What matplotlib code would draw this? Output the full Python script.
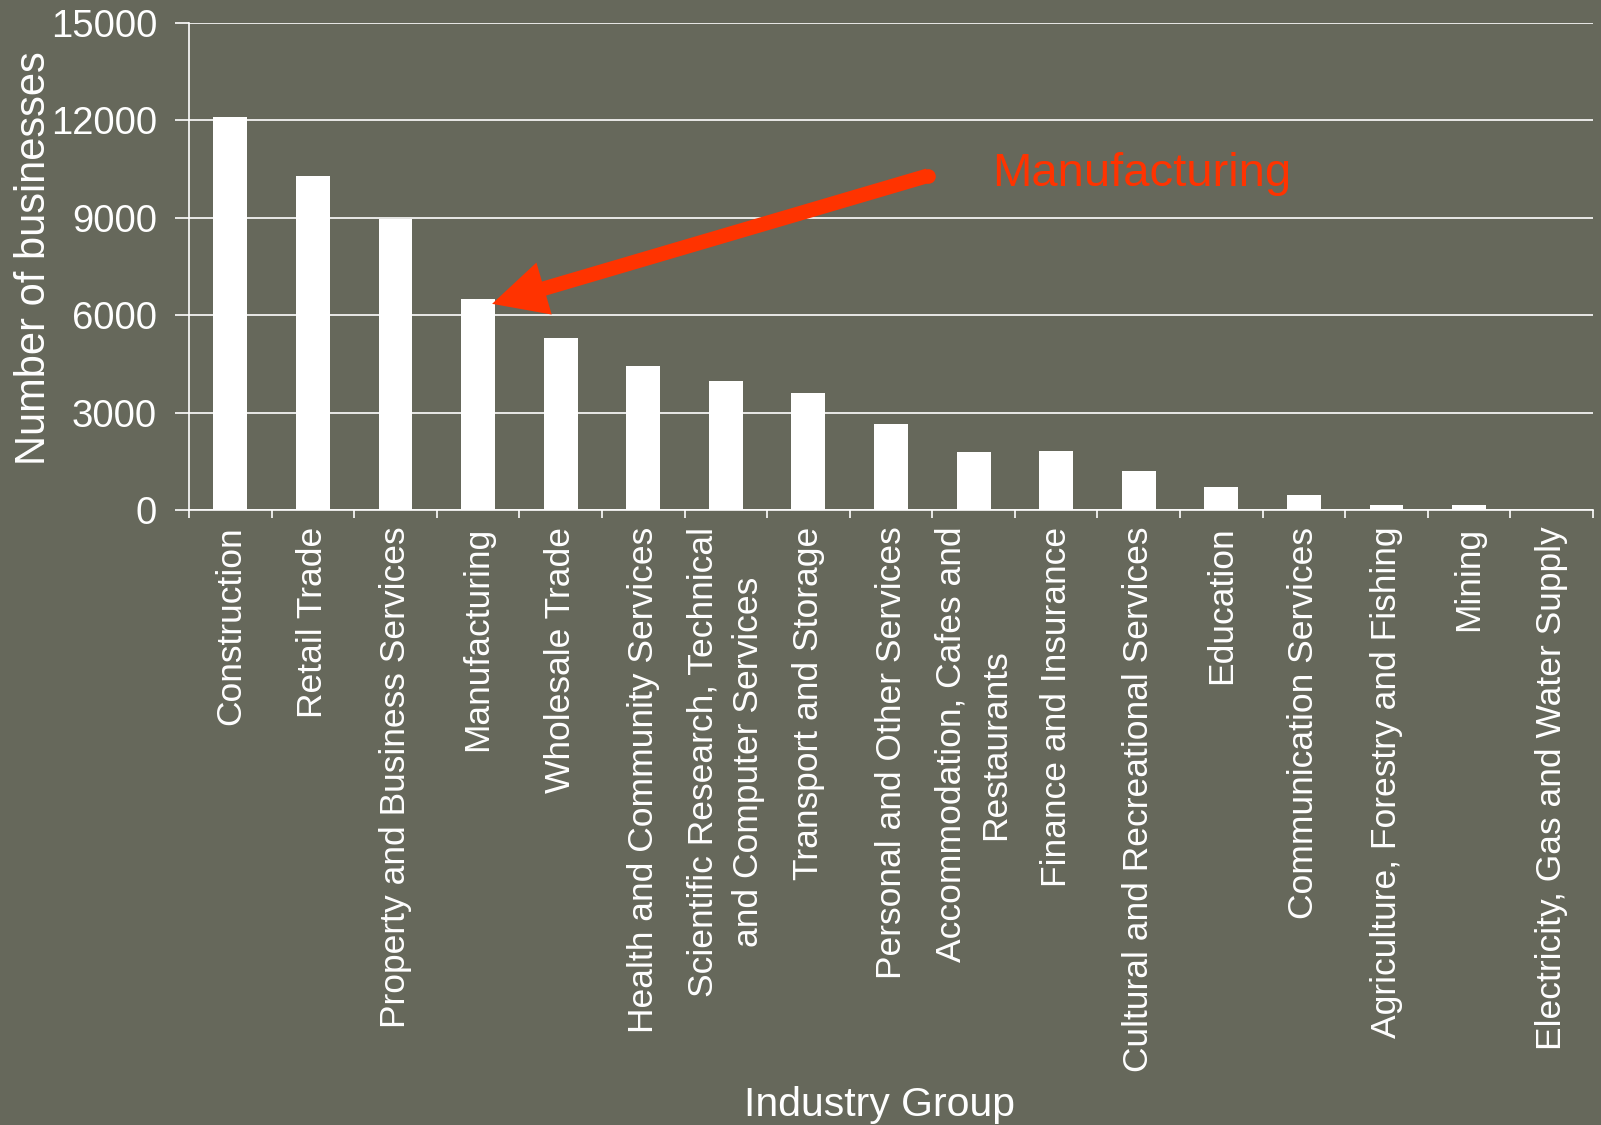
import matplotlib
matplotlib.use("Agg")
import matplotlib.pyplot as plt
from matplotlib.patches import FancyArrowPatch

categories = [
    "Construction",
    "Retail Trade",
    "Property and Business Services",
    "Manufacturing",
    "Wholesale Trade",
    "Health and Community Services",
    "Scientific Research, Technical\nand Computer Services",
    "Transport and Storage",
    "Personal and Other Services",
    "Accommodation, Cafes and\nRestaurants",
    "Finance and Insurance",
    "Cultural and Recreational Services",
    "Education",
    "Communication Services",
    "Agriculture, Forestry and Fishing",
    "Mining",
    "Electricity, Gas and Water Supply",
]
businesses = [12100, 10300, 8950, 6500, 5300, 4450, 3970, 3600, 2660,
              1800, 1810, 1200, 700, 460, 150, 150, 0]
y_ticks = [0, 3000, 6000, 9000, 12000, 15000]

BG = "#66685b"
RED = "#ff3300"
WHITE = "#ffffff"

plt.rcParams['font.family'] = ['Liberation Sans', 'DejaVu Sans']

fig = plt.figure(figsize=(16.01, 11.25), dpi=100, facecolor=BG)
ax = fig.add_axes([189/1601, 1-510/1125, (1593-189)/1601, (510-23)/1125])
ax.set_facecolor(BG)

x = list(range(len(categories)))
ax.bar(x, businesses, width=0.41, color=WHITE, zorder=3)

ax.set_xlim(-0.5, len(categories) - 0.5)
ax.set_ylim(0, 15000)
ax.set_yticks(y_ticks)
ax.set_yticklabels([str(v) for v in y_ticks], fontsize=27.5, color=WHITE)
ax.grid(axis='y', color=WHITE, lw=1.2, zorder=1)
ax.set_axisbelow(True)

ax.set_xticks(x)
ax.set_xticklabels(categories, rotation=90, fontsize=25.5, color=WHITE,
                   va='top', ha='center', multialignment='center')
for lab in ax.get_xticklabels():
    lab.set_linespacing(1.45)
ax.tick_params(axis='x', which='major', length=0, pad=12)
ax.set_xticks([i - 0.5 for i in range(len(categories) + 1)], minor=True)
ax.tick_params(axis='x', which='minor', length=6, width=1.2, color=WHITE, direction='out')
ax.tick_params(axis='y', length=10, width=1.2, color=WHITE, pad=13)

for s in ['top', 'right']:
    ax.spines[s].set_visible(False)
for s in ['left', 'bottom']:
    ax.spines[s].set_color(WHITE)
    ax.spines[s].set_linewidth(1.2)
    ax.spines[s].set_zorder(4)

fig.text(45/1601, 1-258/1125, "Number of businesses", rotation=90,
         rotation_mode='anchor', ha='center', va='baseline', fontsize=30, color=WHITE)
fig.text(879/1601, 1-1116/1125, "Industry Group", ha='center', va='baseline',
         fontsize=29.5, color=WHITE)

# annotation arrow pointing to the Manufacturing bar
mi = categories.index("Manufacturing")
tip = (mi + 0.17, businesses[mi] - 150)
tail = (mi + 5.45, businesses[mi] + 3800)
arrow = FancyArrowPatch(tail, tip, arrowstyle="simple,head_length=3.9,head_width=3.9,tail_width=1.05",
                        mutation_scale=10, color=RED, lw=0, shrinkA=0, shrinkB=0, zorder=6)
ax.add_patch(arrow)
ax.plot([tail[0]], [tail[1]], marker='o', ms=10.5, color=RED, mec='none', zorder=6)
ax.text(mi + 6.23, businesses[mi] + 3470, "Manufacturing", color=RED, fontsize=34,
        ha='left', va='baseline', zorder=6)

fig.savefig("out.png", dpi=100, facecolor=BG)
